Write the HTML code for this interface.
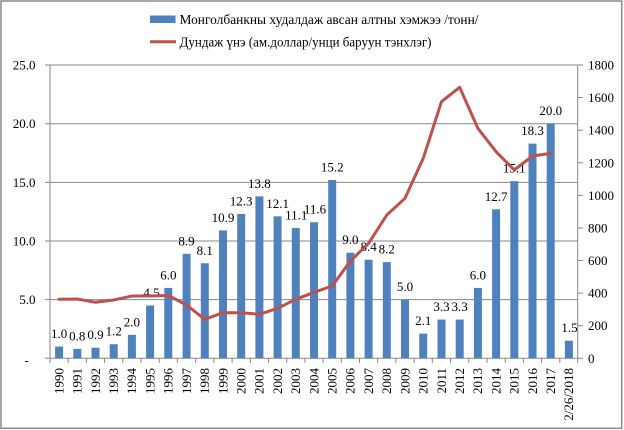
<!DOCTYPE html>
<html><head><meta charset="utf-8"><style>
html,body{margin:0;padding:0;background:#fff;}
svg{display:block;}
text{font-family:"Liberation Serif","DejaVu Serif",serif;font-size:13px;fill:#000;}
</style></head><body>
<svg width="624" height="430" viewBox="0 0 624 430" xmlns="http://www.w3.org/2000/svg">
<rect x="0" y="0" width="624" height="430" fill="#fff"/>
<rect x="1" y="1" width="620.7" height="427.3" fill="none" stroke="#8a8a8a" stroke-width="1.5"/>

<!-- legend -->
<rect x="150" y="15.5" width="25.5" height="7.5" fill="#4F81BD"/>
<text x="179.5" y="24" textLength="299" lengthAdjust="spacingAndGlyphs" style="font-size:13.5px">Монголбанкны худалдаж  авсан алтны хэмжээ /тонн/</text>
<line x1="150" y1="41.7" x2="176" y2="41.7" stroke="#C0504D" stroke-width="3"/>
<text x="179.5" y="46.5" textLength="252" lengthAdjust="spacingAndGlyphs" style="font-size:13.5px">Дундаж үнэ (ам.доллар/унци баруун тэнхлэг)</text>

<!-- gridlines -->
<g stroke="#878787" stroke-width="1">
<line x1="45" y1="65" x2="577.7" y2="65"/>
<line x1="45" y1="123.7" x2="577.7" y2="123.7"/>
<line x1="45" y1="182.35" x2="577.7" y2="182.35"/>
<line x1="45" y1="241" x2="577.7" y2="241"/>
<line x1="45" y1="299.65" x2="577.7" y2="299.65"/>
<line x1="45" y1="358.3" x2="577.7" y2="358.3"/>
<line x1="50" y1="65" x2="50" y2="358.3"/>
<line x1="577.7" y1="65" x2="577.7" y2="358.3"/>
<!-- right ticks -->
<line x1="577.7" y1="358.3" x2="583" y2="358.3"/>
<line x1="577.7" y1="325.71" x2="583" y2="325.71"/>
<line x1="577.7" y1="293.12" x2="583" y2="293.12"/>
<line x1="577.7" y1="260.53" x2="583" y2="260.53"/>
<line x1="577.7" y1="227.94" x2="583" y2="227.94"/>
<line x1="577.7" y1="195.35" x2="583" y2="195.35"/>
<line x1="577.7" y1="162.76" x2="583" y2="162.76"/>
<line x1="577.7" y1="130.17" x2="583" y2="130.17"/>
<line x1="577.7" y1="97.58" x2="583" y2="97.58"/>
<line x1="577.7" y1="65" x2="583" y2="65"/>
<!-- category ticks -->
<path d="M50 358.3V363M68.2 358.3V363M86.4 358.3V363M104.6 358.3V363M122.8 358.3V363M141 358.3V363M159.2 358.3V363M177.4 358.3V363M195.7 358.3V363M213.9 358.3V363M232.1 358.3V363M250.3 358.3V363M268.5 358.3V363M286.7 358.3V363M304.9 358.3V363M323.1 358.3V363M341.3 358.3V363M359.5 358.3V363M377.7 358.3V363M395.9 358.3V363M414.1 358.3V363M432.3 358.3V363M450.6 358.3V363M468.8 358.3V363M487 358.3V363M505.2 358.3V363M523.4 358.3V363M541.6 358.3V363M559.8 358.3V363M577.7 358.3V363"/>
</g>

<!-- left labels -->
<g text-anchor="end">
<text x="35.5" y="69.5">25.0</text>
<text x="35.5" y="128.2">20.0</text>
<text x="35.5" y="186.9">15.0</text>
<text x="35.5" y="245.5">10.0</text>
<text x="35.5" y="304.2">5.0</text>
</g>
<text x="24.5" y="364.5">-</text>

<!-- right labels -->
<g>
<text x="588" y="362.8">0</text>
<text x="588" y="330.2">200</text>
<text x="588" y="297.6">400</text>
<text x="588" y="265">600</text>
<text x="588" y="232.4">800</text>
<text x="588" y="199.9">1000</text>
<text x="588" y="167.3">1200</text>
<text x="588" y="134.7">1400</text>
<text x="588" y="102.1">1600</text>
<text x="588" y="69.5">1800</text>
</g>

<!-- bars -->
<g fill="#4F81BD">
<rect x="55.1" y="346.57" width="8" height="11.73"/>
<rect x="73.3" y="348.91" width="8" height="9.39"/>
<rect x="91.5" y="347.74" width="8" height="10.56"/>
<rect x="109.7" y="344.22" width="8" height="14.08"/>
<rect x="127.9" y="334.84" width="8" height="23.46"/>
<rect x="146.1" y="305.51" width="8" height="52.79"/>
<rect x="164.3" y="287.91" width="8" height="70.39"/>
<rect x="182.6" y="253.89" width="8" height="104.41"/>
<rect x="200.8" y="263.27" width="8" height="95.03"/>
<rect x="219" y="230.42" width="8" height="127.88"/>
<rect x="237.2" y="214" width="8" height="144.3"/>
<rect x="255.4" y="196.4" width="8" height="161.9"/>
<rect x="273.6" y="216.34" width="8" height="141.96"/>
<rect x="291.8" y="228.07" width="8" height="130.23"/>
<rect x="310" y="222.21" width="8" height="136.09"/>
<rect x="328.2" y="179.97" width="8" height="178.33"/>
<rect x="346.4" y="252.71" width="8" height="105.59"/>
<rect x="364.6" y="259.75" width="8" height="98.55"/>
<rect x="382.8" y="262.1" width="8" height="96.2"/>
<rect x="401" y="299.64" width="8" height="58.66"/>
<rect x="419.2" y="333.66" width="8" height="24.64"/>
<rect x="437.5" y="319.58" width="8" height="38.72"/>
<rect x="455.7" y="319.58" width="8" height="38.72"/>
<rect x="473.9" y="287.91" width="8" height="70.39"/>
<rect x="492.1" y="209.3" width="8" height="149"/>
<rect x="510.3" y="181.15" width="8" height="177.15"/>
<rect x="528.5" y="143.6" width="8" height="214.7"/>
<rect x="546.7" y="123.66" width="8" height="234.64"/>
<rect x="564.9" y="340.7" width="8" height="17.6"/>
</g>

<!-- data labels -->
<g text-anchor="middle">
<text x="59.1" y="338.1">1.0</text>
<text x="77.3" y="340.4">0.8</text>
<text x="95.5" y="339.2">0.9</text>
<text x="113.7" y="335.7">1.2</text>
<text x="131.9" y="326.3">2.0</text>
<text x="151.5" y="297">4.5</text>
<text x="168.35" y="279.4">6.0</text>
<text x="186.55" y="245.4">8.9</text>
<text x="204.76" y="254.8">8.1</text>
<text x="222.97" y="221.9">10.9</text>
<text x="241.18" y="205.5">12.3</text>
<text x="259.38" y="187.9">13.8</text>
<text x="277.59" y="207.8">12.1</text>
<text x="296.3" y="219.6">11.1</text>
<text x="315" y="213.7">11.6</text>
<text x="332.2" y="171.5">15.2</text>
<text x="350.4" y="244.2">9.0</text>
<text x="368.6" y="251.2">8.4</text>
<text x="386.8" y="253.6">8.2</text>
<text x="405" y="291.1">5.0</text>
<text x="423.25" y="325.2">2.1</text>
<text x="441.45" y="311.1">3.3</text>
<text x="459.66" y="311.1">3.3</text>
<text x="477.87" y="279.4">6.0</text>
<text x="496.07" y="200.8">12.7</text>
<text x="514.28" y="172.6">15.1</text>
<text x="532.49" y="135.1">18.3</text>
<text x="550.7" y="115.2">20.0</text>
<text x="569.5" y="332.2">1.5</text>
</g>

<!-- price line -->
<polyline fill="none" stroke="#C0504D" stroke-width="3" stroke-linejoin="round" stroke-linecap="round"
points="59.1,299.3 77.3,299 95.5,302.3 113.7,300 131.9,296 150.1,296 168.35,295.5 186.55,305 204.76,319.3 222.97,312.7 241.18,312.7 259.38,314.3 277.59,308.3 295.8,299.3 314,292.3 332.2,286 350.4,261 368.6,243.3 386.8,215 405,198.3 423.25,158.3 441.45,101.7 459.66,87.3 477.87,128.3 496.07,151.7 514.28,170 532.49,156 550.7,153.3"/>

<!-- x labels -->
<g text-anchor="end">
<text transform="translate(63.4,368) rotate(-90)">1990</text>
<text transform="translate(81.6,368) rotate(-90)">1991</text>
<text transform="translate(99.8,368) rotate(-90)">1992</text>
<text transform="translate(118,368) rotate(-90)">1993</text>
<text transform="translate(136.2,368) rotate(-90)">1994</text>
<text transform="translate(154.4,368) rotate(-90)">1995</text>
<text transform="translate(172.6,368) rotate(-90)">1996</text>
<text transform="translate(190.8,368) rotate(-90)">1997</text>
<text transform="translate(209.1,368) rotate(-90)">1998</text>
<text transform="translate(227.3,368) rotate(-90)">1999</text>
<text transform="translate(245.5,368) rotate(-90)">2000</text>
<text transform="translate(263.7,368) rotate(-90)">2001</text>
<text transform="translate(281.9,368) rotate(-90)">2002</text>
<text transform="translate(300.1,368) rotate(-90)">2003</text>
<text transform="translate(318.3,368) rotate(-90)">2004</text>
<text transform="translate(336.5,368) rotate(-90)">2005</text>
<text transform="translate(354.7,368) rotate(-90)">2006</text>
<text transform="translate(372.9,368) rotate(-90)">2007</text>
<text transform="translate(391.1,368) rotate(-90)">2008</text>
<text transform="translate(409.3,368) rotate(-90)">2009</text>
<text transform="translate(427.5,368) rotate(-90)">2010</text>
<text transform="translate(445.8,368) rotate(-90)">2011</text>
<text transform="translate(464,368) rotate(-90)">2012</text>
<text transform="translate(482.2,368) rotate(-90)">2013</text>
<text transform="translate(500.4,368) rotate(-90)">2014</text>
<text transform="translate(518.6,368) rotate(-90)">2015</text>
<text transform="translate(536.8,368) rotate(-90)">2016</text>
<text transform="translate(555,368) rotate(-90)">2017</text>
<text transform="translate(573.2,368) rotate(-90)">2/26/2018</text>
</g>
</svg>
</body></html>
